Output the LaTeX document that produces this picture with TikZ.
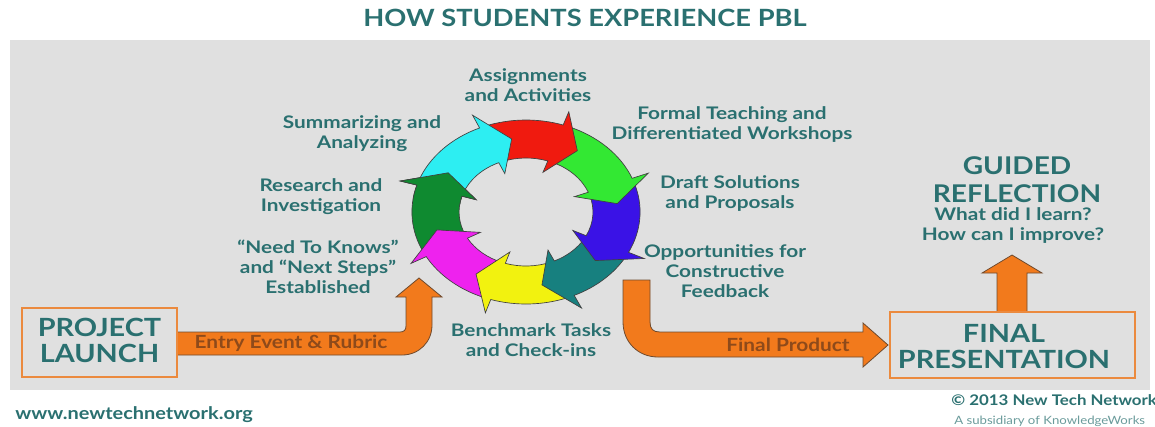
\documentclass[tikz,border=0pt]{standalone}
\usepackage{fontspec}
\newfontfamily\pblfont{Lato}[FakeStretch=1.15]
\newfontfamily\lblfont{Lato}[FakeStretch=1.2]
\definecolor{tealtxt}{HTML}{2A7070}
\definecolor{panelgray}{HTML}{E0E0E0}
\definecolor{boxorange}{HTML}{EB8A3E}
\definecolor{arroworange}{HTML}{F27A1C}
\definecolor{arrowedge}{HTML}{6E4A2E}
\definecolor{arrowtxt}{HTML}{8E4A1A}
\definecolor{ccyan}{HTML}{2DEEF2}
\definecolor{cred}{HTML}{F01A0F}
\definecolor{cgreen}{HTML}{33E833}
\definecolor{cblue}{HTML}{3A12E6}
\definecolor{cteal}{HTML}{17807F}
\definecolor{cyellow}{HTML}{F2F20F}
\definecolor{cmagenta}{HTML}{EE22EE}
\definecolor{cdkgreen}{HTML}{0F8A30}
% one curved ring arrow: fill colour, tail angle, head-base angle (clockwise)
\newcommand\ringarrow[3]{%
  \filldraw[ringedge, fill=#1] (#2:92) arc[start angle=#2, end angle=#3, radius=92]
    -- (#3:106) -- ({#3-15}:74) -- (#3:42) -- (#3:54)
    arc[start angle=#3, end angle=#2, radius=54] -- cycle;}
\begin{document}
\begin{tikzpicture}[x=0.75pt,y=-0.75pt,
  ringedge/.style={draw=black!75, line width=0.5pt, line join=miter},
  lbl/.style={font=\lblfont\bfseries\fontsize{13}{15}\selectfont, text=tealtxt, align=center, inner sep=0pt, anchor=north},
  bigcap/.style={font=\pblfont\bfseries\fontsize{18.8}{19.4}\selectfont, text=tealtxt, align=center, inner sep=0pt},
  stagebox/.style={draw=boxorange, line width=2.2pt, fill=panelgray, inner sep=0pt},
  orangearrow/.style={fill=arroworange, draw=arrowedge, line width=0.6pt, line join=miter},
  arrowlbl/.style={font=\pblfont\bfseries\fontsize{13.6}{15}\selectfont, text=arrowtxt, inner sep=0pt},
  foot/.style={font=\pblfont\bfseries\fontsize{13}{14}\selectfont, text=tealtxt, inner sep=0pt}]
\useasboundingbox (0,0) rectangle (1155,426);
\fill[white] (0,0) rectangle (1155,426);
\fill[panelgray] (10,40) rectangle (1150,390);

% title
\node[font=\pblfont\bfseries\fontsize{17.8}{20}\selectfont, text=tealtxt, inner sep=0pt] (title) at (585,18) {HOW STUDENTS EXPERIENCE PBL};

% cycle of eight arrows
\begin{scope}[shift={(526,212)}, x=0.93pt, y=0.75pt]
  \ringarrow{cdkgreen}{-154}{-197}
  \ringarrow{cmagenta}{-111}{-151}
  \ringarrow{cyellow}{-68}{-108}
  \ringarrow{cteal}{-29}{-65}
  \ringarrow{cblue}{18.5}{-26}
  \ringarrow{cgreen}{68}{21.5}
  \ringarrow{cred}{111}{71}
  \ringarrow{ccyan}{160}{114}
  % the dark green head lies over the cyan tail
  \begin{scope}
    \clip (0,0) -- (140:160) -- (155:160) -- (172:160) -- cycle;
    \ringarrow{cdkgreen}{-154}{-197}
  \end{scope}
\end{scope}

% labels around the cycle
\node[lbl] (assign) at (528,68) {Assignments\\and Activities};
\node[lbl] (formal) at (732,106) {Formal Teaching and\\Differentiated Workshops};
\node[lbl] (draft) at (730,175) {Draft Solutions\\and Proposals};
\node[lbl] (opport) at (725,244) {Opportunities for\\Constructive\\Feedback};
\node[lbl] (bench) at (531,323) {Benchmark Tasks\\and Check-ins};
\node[lbl] (summ) at (362,115) {Summarizing and\\Analyzing};
\node[lbl] (research) at (321,178) {Research and\\Investigation};
\node[lbl] (need) at (318,240) {“Need To Knows”\\and “Next Steps”\\Established};

% orange connectors
\filldraw[orangearrow] (177,332) -- (400,332) .. controls (404,332) and (406,330) .. (406,326)
  -- (406,297) -- (396,297) -- (419,278) -- (442,297) -- (432,297) -- (432,325)
  .. controls (432,342) and (419,355) .. (402,355) -- (177,355) -- cycle;
\filldraw[orangearrow] (623,280) -- (650,280) -- (650,322) .. controls (650,329) and (653,332) .. (660,332)
  -- (863,332) -- (863,323) -- (888,345) -- (863,367) -- (863,357) -- (658,357)
  .. controls (638,357) and (623,342) .. (623,322) -- cycle;
\filldraw[orangearrow] (997,312) -- (997,273) -- (982,273) -- (1012,255) -- (1042,273) -- (1027,273) -- (1027,312) -- cycle;
\node[arrowlbl] (entry) at (291,343) {Entry Event \& Rubric};
\node[arrowlbl] (product) at (788,345) {Final Product};

% stage boxes
\node[stagebox, minimum width=116.25pt, minimum height=51.75pt] (launch) at (99.5,342.5) {};
\node[bigcap] (launchtxt) at (99.5,340.5) {PROJECT\\LAUNCH};
\node[stagebox, minimum width=183.75pt, minimum height=49.5pt] (final) at (1012.5,345) {};
\node[bigcap] (finaltxt) at (1004,346.5) {FINAL\\PRESENTATION};

% reflection
\node[bigcap, anchor=north, font=\pblfont\bfseries\fontsize{18.3}{21}\selectfont] (guided) at (1017,156) {GUIDED\\REFLECTION};
\node[lbl] (questions) at (1013,207) {What did I learn?\\How can I improve?};

% footer
\node[foot, anchor=base west] (web) at (15,419) {www.newtechnetwork.org};
\node[foot, anchor=base west, font=\pblfont\bfseries\fontsize{11}{13}\selectfont] (copy) at (951,405) {© 2013 New Tech Network};
\node[anchor=base west, inner sep=0pt, text=tealtxt!70, font=\pblfont\fontsize{8.6}{10}\selectfont] (subsid) at (954,424) {A subsidiary of KnowledgeWorks};
\end{tikzpicture}
\end{document}
